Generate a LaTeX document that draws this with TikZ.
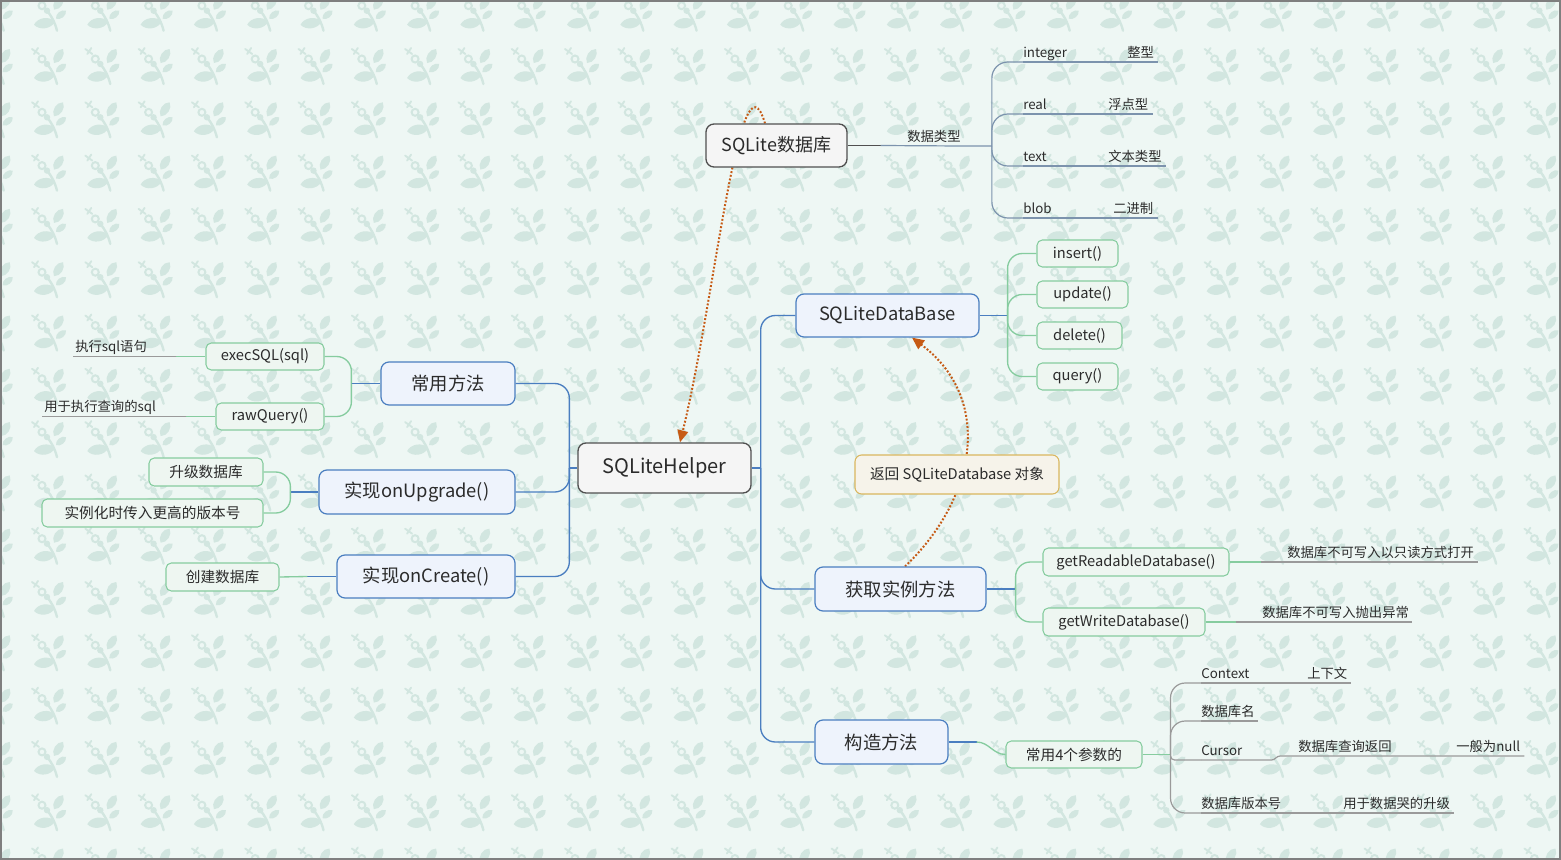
\documentclass[tikz,border=0pt]{standalone}
\usepackage{fontspec}
\setmainfont{Noto Sans CJK SC}
\usepackage{tikz}
\usetikzlibrary{arrows.meta,calc}
\pgfdeclarelayer{pattern}
\pgfdeclarelayer{relation}
\pgfsetlayers{pattern,relation,main}
\definecolor{paper}{HTML}{EEF7F4}
\definecolor{sprigc}{HTML}{D2E6E0}
\definecolor{framec}{HTML}{7F7F7F}
\definecolor{ink}{HTML}{2B2B2B}
\definecolor{rootfill}{HTML}{F5F5F5}
\definecolor{rootline}{HTML}{505050}
\definecolor{mainfill}{HTML}{EEF3FC}
\definecolor{mainline}{HTML}{4A7EC0}
\definecolor{subfill}{HTML}{EEF6F1}
\definecolor{subline}{HTML}{86CC9F}
\definecolor{notefill}{HTML}{F6F3EA}
\definecolor{noteline}{HTML}{D9B65E}
\definecolor{leafgray}{HTML}{9A9A9A}
\definecolor{leafblue}{HTML}{7C93AD}
\definecolor{relc}{HTML}{C65A14}

\begin{document}
\begin{tikzpicture}[
  x=0.75pt, y=-0.75pt,
  box/.style 2 args={minimum width=#1*0.75pt, minimum height=#2*0.75pt, inner sep=0pt},
  root/.style={draw=rootline, fill=rootfill, line width=1pt, rounded corners=6pt, text=ink},
  main/.style={draw=mainline, fill=mainfill, line width=0.9pt, rounded corners=6pt,
    text=ink, font=\fontsize{13.75}{16}\selectfont},
  sub/.style={draw=subline, fill=subfill, line width=0.8pt, rounded corners=4pt,
    text=ink, font=\fontsize{11}{13}\selectfont},
  note/.style={draw=noteline, fill=notefill, line width=0.8pt, rounded corners=5pt,
    text=ink, font=\fontsize{11}{13}\selectfont},
  leaf/.style={anchor=south west, inner xsep=0pt, inner ysep=1.5pt, text height=0.8em,
    text depth=0.2em, text=ink, font=\fontsize{10}{12}\selectfont},
  rootl/.style={draw=rootline, line width=1pt},
  bline/.style={draw=mainline, line width=1pt},
  gline/.style={draw=subline, line width=1pt},
  grayl/.style={draw=leafgray, line width=0.9pt},
  blul/.style={draw=leafblue, line width=0.9pt},
  rc/.style={rounded corners=11pt},
  rel/.style={draw=relc, line width=1.5pt, dash pattern=on 1.4pt off 1.4pt,
    -{Triangle[length=9pt,width=8pt]}},
  sprig/.pic={
    \draw[sprigc,line width=1.4pt,line cap=round] (0,1) -- (7,6) (6,0) -- (2,6);
    \draw[sprigc,line width=1.5pt] (10,11) circle[radius=3.5];
    \fill[sprigc] (15,16) circle[radius=3.2];
    \draw[sprigc,line width=1.8pt,line cap=round] (15,16) .. controls (20,22) and (23,28) .. (25,36);
    \fill[sprigc] (22,15) to[bend left=60] (31,1) to[bend left=60] (22,15);
    \fill[sprigc] (24,24) to[bend left=60] (34,16) to[bend left=60] (24,24);
    \fill[sprigc] (23,27) to[bend left=55] (2,30) to[bend left=55] (23,27);
  }
]
\useasboundingbox (0,0) rectangle (1561,860);
%% ─── Paper and sprig pattern ────────────────────────────────────────────────
\begin{pgfonlayer}{pattern}
  \fill[paper] (0,0) rectangle (1561,860);
  \begin{scope}
    \clip (0,0) rectangle (1561,860);
    \foreach \i in {0,...,29}
      \foreach \j in {0,...,16}
        \pic at ({-21.3+53.3*\i},{-5.3+53.3*\j}) {sprig};
  \end{scope}
\end{pgfonlayer}
%% ─── Central topics ─────────────────────────────────────────────────────────
\node[root, box={173}{50}, font=\fontsize{15}{18}\selectfont] (hp) at (664.5,468) {SQLiteHelper};
\node[root, box={141}{43}, font=\fontsize{13.5}{16}\selectfont] (db) at (776.5,145.5) {SQLite数据库};
%% ─── Left branch ────────────────────────────────────────────────────────────
\node[main, box={134}{43}] (cy) at (448,383.5) {常用方法};
\node[main, box={196}{44}] (up) at (417,492) {实现onUpgrade()};
\node[main, box={178}{43}] (cr) at (426,576.5) {实现onCreate()};
\node[sub, box={118}{27}] (ex) at (265,356.5) {execSQL(sql)};
\node[sub, box={108}{27}] (rq) at (270,416.5) {rawQuery()};
\node[sub, box={114}{28}] (sj) at (206,472) {升级数据库};
\node[sub, box={221}{28}] (sl) at (152.5,513) {实例化时传入更高的版本号};
\node[sub, box={113}{28}] (cj) at (222.5,577) {创建数据库};
\node[leaf] (zx) at (75,356.5) {执行sql语句};
\node[leaf] (cx) at (44,416.5) {用于执行查询的sql};
%% ─── Right branch ───────────────────────────────────────────────────────────
\node[main, box={183}{43}] (sdb) at (887.5,315.5) {SQLiteDataBase};
\node[main, box={171}{44}] (hq) at (900.5,589) {获取实例方法};
\node[main, box={133}{44}] (gz) at (881.5,742) {构造方法};
\node[sub, box={81}{27}] (ins) at (1077.5,253.5) {insert()};
\node[sub, box={91}{27}] (upd) at (1082.5,294.5) {update()};
\node[sub, box={85}{27}] (del) at (1079.5,335.5) {delete()};
\node[sub, box={81}{27}] (qry) at (1077.5,376.5) {query()};
\node[sub, box={186}{28}] (gr) at (1136,562) {getReadableDatabase()};
\node[sub, box={162}{28}] (gw) at (1124,622) {getWriteDatabase()};
\node[sub, box={136}{27}] (cs) at (1074,754.5) {常用4个参数的};
\node[note, box={204}{39}] (fh) at (957,474.5) {返回 SQLiteDatabase 对象};
\node[leaf] (lr) at (1287,562) {数据库不可写入以只读方式打开};
\node[leaf] (lw) at (1262,622) {数据库不可写入抛出异常};
\node[leaf] (lctx) at (1201,683) {Context};
\node[leaf] (lsx) at (1307,683) {上下文};
\node[leaf] (lnm) at (1201,721) {数据库名};
\node[leaf] (lcur) at (1201,760) {Cursor};
\node[leaf] (lcq) at (1298,756) {数据库查询返回};
\node[leaf] (lnull) at (1456,756) {一般为null};
\node[leaf] (lver) at (1201,813) {数据库版本号};
\node[leaf] (lsj) at (1343,813) {用于数据哭的升级};
%% ─── Data types ─────────────────────────────────────────────────────────────
\node[leaf] (lx) at (907,146) {数据类型};
\node[leaf] (lint) at (1023,62) {integer};
\node[leaf] (lzx) at (1127,62) {整型};
\node[leaf] (lreal) at (1023,114) {real};
\node[leaf] (lfd) at (1108,114) {浮点型};
\node[leaf] (ltext) at (1023,166) {text};
\node[leaf] (lwb) at (1108,166) {文本类型};
\node[leaf] (lblob) at (1023,218) {blob};
\node[leaf] (ler) at (1113,218) {二进制};
%% ─── Branch lines ───────────────────────────────────────────────────────────
\draw[rootl] (db.east) -- ++(33,0) coordinate (dbj);
\draw[blul] (dbj) -- (lx.south east) -- ++(31,0) coordinate (lxj);
\foreach \a/\b in {lint/lzx, lreal/lfd, ltext/lwb, lblob/ler}{
  \draw[blul, rounded corners=12pt] (lxj) |- (\a.south west);
  \draw[blul] (\a.south west) -- (\b.south east) -- ++(4,0);
}
\draw[bline] (hp.east) -- ++(9,0) coordinate (rj);
\foreach \n in {sdb,hq,gz} \draw[bline,rc] (rj) |- (\n.west);
\draw[bline] (hp.west) -- ++(-8,0) coordinate (lj);
\foreach \n in {cy,up,cr} \draw[bline,rc] (lj) |- (\n.east);
% left subtopics
\draw[bline] (cy.west) -- ++(-29,0) coordinate (cyj);
\foreach \n in {ex,rq} \draw[gline,rc] (cyj) |- (\n.east);
\draw[bline] (up.west) -- ++(-28,0) coordinate (upj);
\foreach \n in {sj,sl} \draw[gline,rc] (upj) |- (\n.east);
\draw[bline] (cr.west) -- ++(-29,0) coordinate (crj);
\draw[gline] (crj) -- (cj.east);
\draw[gline] (ex.west) -- ++(-29,0) coordinate (exj);
\draw[grayl] (exj) -- (zx.south west) -- ++(-2,0);
\draw[gline] (rq.west) -- ++(-29,0) coordinate (rqj);
\draw[grayl] (rqj) -- (cx.south west) -- ++(-2,0);
% right subtopics
\draw[bline] (sdb.east) -- ++(28,0) coordinate (sdj);
\foreach \n in {ins,upd,del,qry} \draw[gline,rc] (sdj) |- (\n.west);
\draw[bline] (hq.east) -- ++(29,0) coordinate (hqj);
\foreach \n in {gr,gw} \draw[gline,rc] (hqj) |- (\n.west);
\draw[gline] (gr.east) -- ++(31,0) coordinate (grj);
\draw[grayl] (grj) -- (lr.south east) -- ++(4,0);
\draw[gline] (gw.east) -- ++(30,0) coordinate (gwj);
\draw[grayl] (gwj) -- (lw.south east) -- ++(3,0);
\draw[bline] (gz.east) -- ++(28,0) coordinate (gzj);
\draw[gline] (gzj) to[out=0,in=180] (cs.west);
\draw[gline] (cs.east) -- ++(28,0) coordinate (csj);
\foreach \a in {lctx,lnm,lver} \draw[grayl,rc] (csj) |- (\a.south west);
\draw[grayl] (lctx.south west) -- (lsx.south east) -- ++(3,0);
\draw[grayl] (lnm.south west) -- (lnm.south east) -- ++(3,0);
\draw[grayl] (lver.south west) -- (lsj.south east) -- ++(4,0);
\draw[grayl,rounded corners=3pt] (csj) |- (lcur.south west);
\draw[grayl] (lcur.south west) -- ($(lcur.south east)+(29,0)$)
  to[out=0,in=180] ($(lcq.south west)+(-18,0)$) -- (lnull.south east) -- ++(4,0);
%% ─── Relationships ──────────────────────────────────────────────────────────
\begin{pgfonlayer}{relation}
  \draw[rel] ($(db.north)+(-11.5,0)$) .. controls (740,40) and (715,300) .. ($(hp.north)+(15.5,0)$);
  \draw[rel] ($(hq.north)+(4.5,0)$) .. controls (975,500) and (995,400) .. ($(sdb.south)+(24.5,0)$);
\end{pgfonlayer}
%% ─── Frame ──────────────────────────────────────────────────────────────────
\draw[framec, line width=1.5pt] (1,1) rectangle (1560,859);
\end{tikzpicture}
\end{document}
